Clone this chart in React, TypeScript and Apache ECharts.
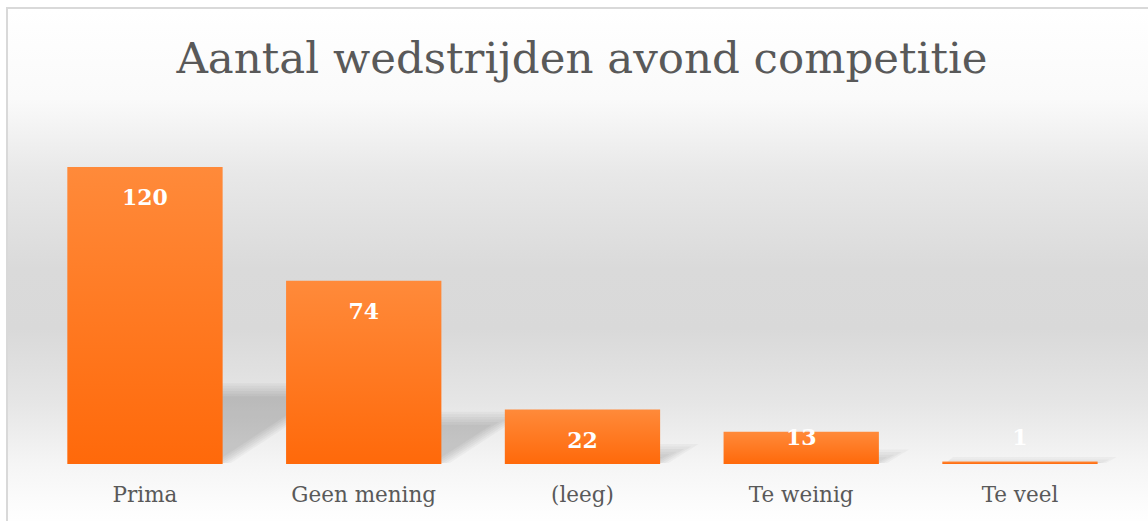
import React, { useEffect, useRef } from "react";
import * as echarts from "echarts";

const titleText = "Aantal wedstrijden avond competitie";
const categories = ["Prima", "Geen mening", "(leeg)", "Te weinig", "Te veel"];
const values = [120, 74, 22, 13, 1];
const lowLabelIndexes = [3, 4];

const SERIF = "'DejaVu Serif', 'Liberation Serif', serif";

export default function App() {
  const ref = useRef<HTMLDivElement>(null);

  useEffect(() => {
    if (!ref.current) return;
    const chart = echarts.init(ref.current, undefined, { renderer: "svg" });

    const barData = values.map((v, i) => {
      if (lowLabelIndexes.includes(i)) {
        return {
          value: v,
          label: { position: "insideBottom", distance: 16 },
        };
      }
      return v;
    });

    const option: any = {
      animation: false,
      backgroundColor: "transparent",
      title: {
        text: titleText,
        left: 577,
        top: 31,
        textAlign: "center",
        textStyle: {
          fontFamily: SERIF,
          fontSize: 43.5,
          fontWeight: "normal",
          color: "#595959",
        },
      },
      grid: {
        left: 35.6,
        width: 1093.75,
        top: 117.5,
        bottom: 57,
        containLabel: false,
      },
      xAxis: {
        type: "category",
        data: categories,
        axisLine: { show: false },
        axisTick: { show: false },
        splitLine: { show: false },
        axisLabel: {
          color: "#595959",
          fontFamily: SERIF,
          fontSize: 21.5,
          margin: 19,
        },
      },
      yAxis: {
        type: "value",
        min: 0,
        max: 140,
        show: false,
        splitLine: { show: false },
      },
      series: [
        {
          type: "custom",
          z: 1,
          silent: true,
          data: values.map((v, i) => [i, v]),
          renderItem: (params: any, api: any) => {
            const idx = api.value(0);
            const v = api.value(1);
            const base = api.coord([idx, 0]);
            const top = api.coord([idx, v]);
            const band = api.size([1, 0])[0];
            const barW = band * 0.71;
            const x0 = base[0] - barW / 2;
            const x1 = base[0] + barW / 2;
            const h = base[1] - top[1];
            const hs = h * 0.25;
            const dx = hs * 1.5;
            const layers = [];
            const n = 6;
            for (let j = 0; j < n; j++) {
              const e = (j - (n - 1) / 2) * 2.6;
              const topY = Math.min(base[1] - hs + e, base[1] - 1);
              const rise = base[1] - topY;
              layers.push({
                type: "polygon",
                shape: {
                  points: [
                    [x0 + 4, base[1] - 1],
                    [x1 - e * 1.3, base[1] - 1],
                    [x1 - e * 1.3 + rise * 1.5, topY],
                    [x0 + rise * 1.5, topY],
                  ],
                },
                style: { fill: "rgba(0,0,0,0.032)" },
              });
            }
            return { type: "group", children: layers };
          },
        },
        {
          type: "bar",
          z: 2,
          data: barData,
          barCategoryGap: "29%",
          itemStyle: {
            color: new echarts.graphic.LinearGradient(0, 0, 0, 1, [
              { offset: 0, color: "#FF8A3A" },
              { offset: 1, color: "#FF690A" },
            ]),
          },
          label: {
            show: true,
            position: "insideTop",
            distance: 19,
            color: "#ffffff",
            fontFamily: SERIF,
            fontWeight: "bold",
            fontSize: 22,
          },
        },
      ],
    };

    chart.setOption(option);
    return () => chart.dispose();
  }, []);

  return (
    <div
      style={{
        position: "fixed",
        left: 0,
        top: 0,
        width: 1148,
        height: 521,
        overflow: "hidden",
        background: "#ffffff",
      }}
    >
      <div
        style={{
          position: "absolute",
          left: 6,
          top: 7,
          width: 1200,
          height: 600,
          boxSizing: "border-box",
          borderLeft: "2px solid #d9d9d9",
          borderTop: "2px solid #d9d9d9",
          background:
            "linear-gradient(to bottom, #ffffff 0px, #fafafa 90px, #e8e8e8 165px, #dadada 260px, #d9d9d9 320px, #e6e6e6 395px, #f5f5f5 455px, #fcfcfc 495px, #ffffff 520px)",
        }}
      />
      <div
        ref={ref}
        style={{ position: "absolute", left: 0, top: 0, width: 1148, height: 521 }}
      />
    </div>
  );
}
